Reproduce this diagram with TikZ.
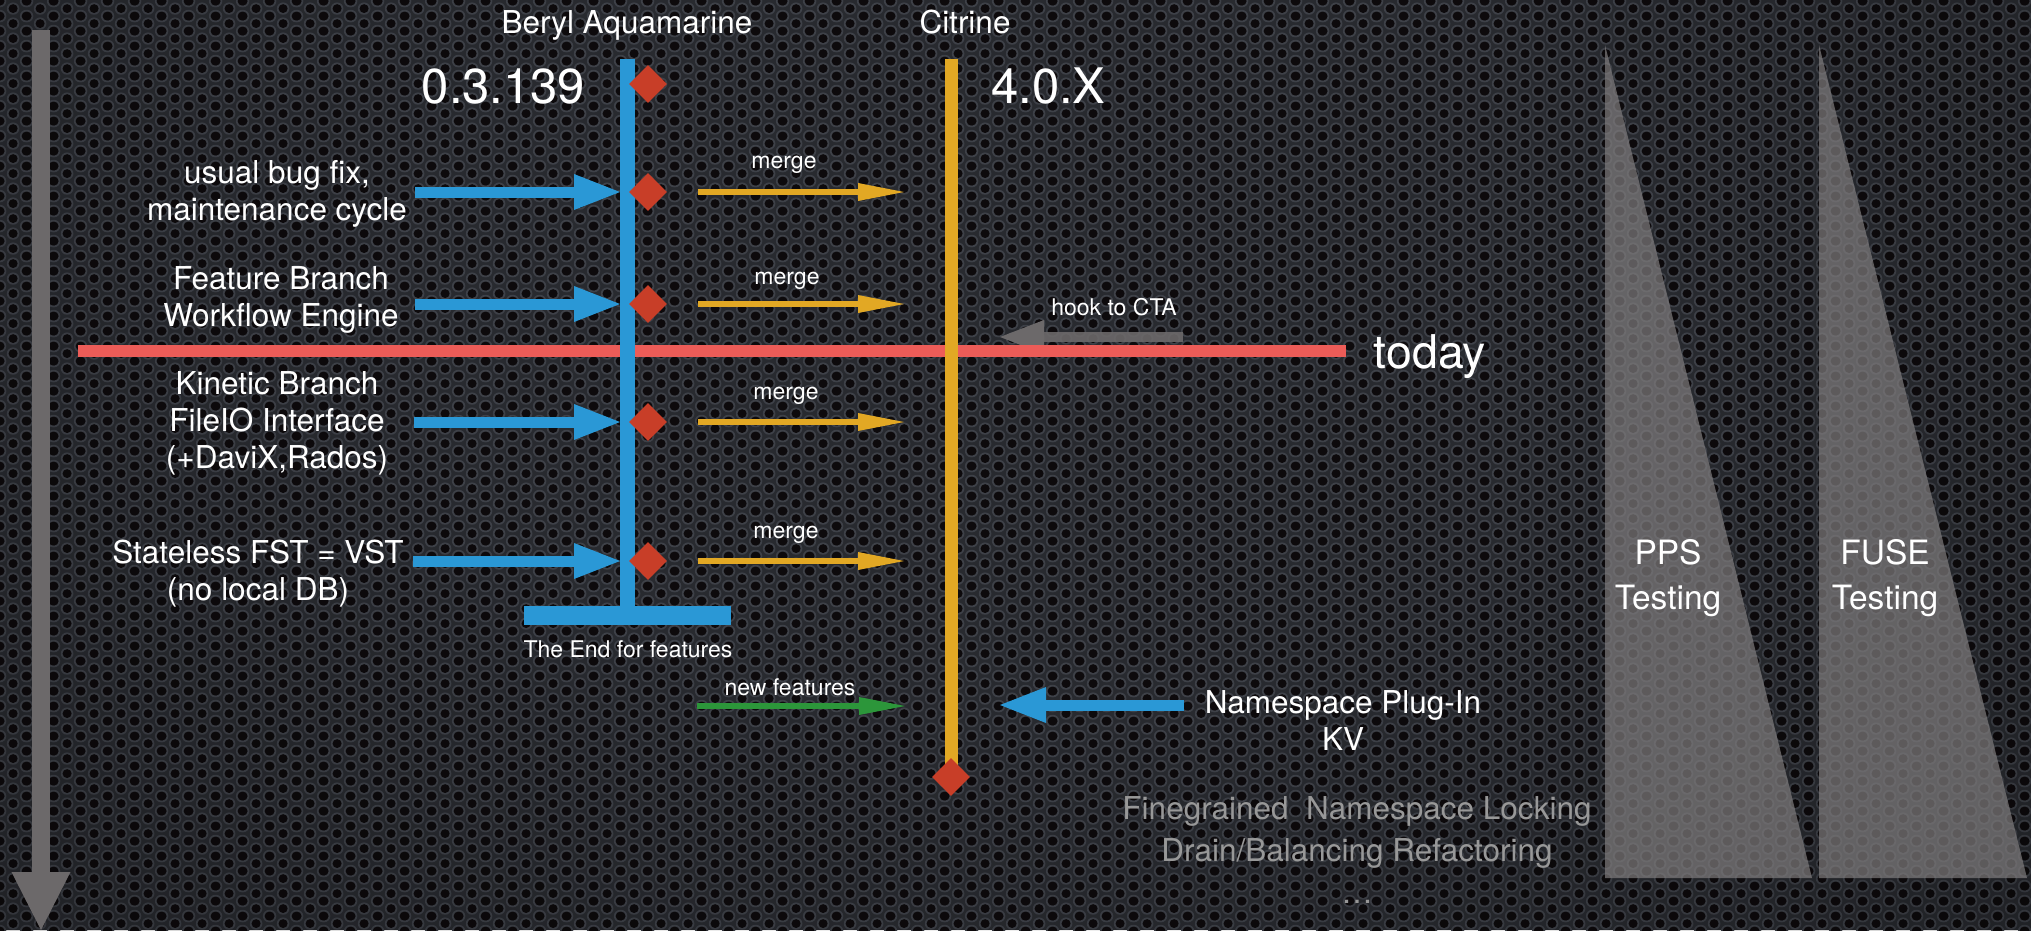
\documentclass[tikz,border=0pt]{standalone}
\usepackage{fontspec}
\setmainfont{TeX Gyre Heros}
\usetikzlibrary{patterns,fadings,arrows.meta,shapes.geometric}
\definecolor{bgbase}{RGB}{40,42,47}
\definecolor{ringc}{RGB}{62,65,72}
\definecolor{holec}{RGB}{13,10,12}
\definecolor{bblue}{RGB}{42,152,214}
\definecolor{dred}{RGB}{200,62,40}
\definecolor{orng}{RGB}{226,168,36}
\definecolor{grn}{RGB}{44,150,58}
\definecolor{todayred}{RGB}{236,92,88}
\definecolor{tgrey}{RGB}{108,105,106}
\definecolor{trifill}{RGB}{128,125,126}
\definecolor{softgrey}{RGB}{152,152,152}
\pgfdeclarepatternformonly{mholes}{\pgfqpoint{0pt}{0pt}}{\pgfqpoint{26.6pt}{15.4pt}}{\pgfqpoint{26.6pt}{15.4pt}}{%
  \pgfpathcircle{\pgfqpoint{0pt}{0pt}}{4.6pt}
  \pgfpathcircle{\pgfqpoint{26.6pt}{0pt}}{4.6pt}
  \pgfpathcircle{\pgfqpoint{0pt}{15.4pt}}{4.6pt}
  \pgfpathcircle{\pgfqpoint{26.6pt}{15.4pt}}{4.6pt}
  \pgfpathcircle{\pgfqpoint{13.3pt}{7.7pt}}{4.6pt}
  \pgfusepath{fill}}
\pgfdeclarepatternformonly{mrings}{\pgfqpoint{0pt}{0pt}}{\pgfqpoint{26.6pt}{15.4pt}}{\pgfqpoint{26.6pt}{15.4pt}}{%
  \pgfpathcircle{\pgfqpoint{0pt}{0pt}}{6.4pt}
  \pgfpathcircle{\pgfqpoint{26.6pt}{0pt}}{6.4pt}
  \pgfpathcircle{\pgfqpoint{0pt}{15.4pt}}{6.4pt}
  \pgfpathcircle{\pgfqpoint{26.6pt}{15.4pt}}{6.4pt}
  \pgfpathcircle{\pgfqpoint{13.3pt}{7.7pt}}{6.4pt}
  \pgfusepath{fill}}
\pgfdeclareradialshading{vigshade}{\pgfpointorigin}{color(0bp)=(black); color(12bp)=(black); color(50bp)=(black!50)}
\pgfdeclarefading{vig}{\pgfuseshading{vigshade}}
\tikzset{
  lbl/.style={text=white, inner sep=0pt, font=\fontsize{31.5}{37}\selectfont, align=center},
  smalllbl/.style={text=white, inner sep=0pt, font=\fontsize{23}{27}\selectfont},
  biglbl/.style={text=white, inner sep=0pt, font=\fontsize{49}{55}\selectfont},
  greylbl/.style={text=softgrey, inner sep=0pt, font=\fontsize{31.5}{42}\selectfont, align=center},
  testlbl/.style={text=white, inner sep=0pt, font=\fontsize{33.5}{45}\selectfont, align=center},
  dia/.style={diamond, fill=dred, minimum width=38pt, minimum height=38pt, inner sep=0pt},
  fatarrow/.style={draw=bblue, line width=11pt, -{Triangle[length=46pt,width=36pt,line width=0pt]}},
  mergearrow/.style={draw=orng, line width=6pt, -{Triangle[length=46pt,width=18pt,line width=0pt]}},
  newarrow/.style={draw=grn, line width=6pt, -{Triangle[length=46pt,width=18pt,line width=0pt]}},
  greyarrow/.style={draw=tgrey, -{Triangle[length=44pt,width=34pt,line width=0pt]}, line width=10pt},
}
\begin{document}
\begin{tikzpicture}[x=1pt,y=-1pt]
\useasboundingbox (0,0) rectangle (2031,930);
% background texture
\fill[bgbase] (0,0) rectangle (2031,930);
\fill[pattern=mrings, pattern color=ringc] (0,0) rectangle (2031,930);
\fill[pattern=mholes, pattern color=holec] (0,0) rectangle (2031,930);
\begin{scope}
  \clip (0,0) rectangle (2031,930);
  \fill[black, path fading=vig] (-300,-600) rectangle (2331,1200);
\end{scope}
% testing triangles
\fill[trifill, opacity=0.7] (1605,45) -- (1605,878) -- (1812,878) -- cycle;
\fill[trifill, opacity=0.7] (1819,45) -- (1819,878) -- (2027,878) -- cycle;
\node[testlbl, anchor=base] (pps) at (1668,609) {PPS\\Testing};
\node[testlbl, anchor=base] (fuse) at (1885,609) {FUSE\\Testing};
% time arrow
\coordinate (tl0) at (41,30);
\coordinate (tl1) at (41,930);
\draw[draw=tgrey, line width=18pt, -{Triangle[length=58pt,width=59pt,line width=0pt]}] (tl0) -- (tl1);
% hook to CTA
\coordinate (h0) at (1183,337);
\coordinate (h1) at (1000,337);
\draw[greyarrow, draw opacity=0.9] (h0) -- (h1);
\node[smalllbl, anchor=base] (hook) at (1114,315) {hook to CTA};
% today line
\coordinate (r0) at (78,351);
\coordinate (r1) at (1346,351);
\draw[todayred, line width=12pt] (r0) -- (r1);
\node[text=white, inner sep=0pt, font=\fontsize{46.5}{50}\selectfont, anchor=base] (today) at (1430,368) {today};
% branches
\coordinate (btop) at (627,59);
\coordinate (bbot) at (627,606);
\draw[bblue, line width=15pt] (btop) -- (bbot);
\fill[bblue] (524,606) rectangle (731,625);
\coordinate (otop) at (951,59);
\coordinate (obot) at (951,777);
\draw[orng, line width=13pt] (otop) -- (obot);
\node[biglbl, anchor=base] (v1) at (503.5,103) {0.3.139};
\node[biglbl, anchor=base west] (v2) at (991,103) {4.0.X};
\node[lbl, anchor=base] (beryl) at (627,33) {Beryl Aquamarine};
\node[lbl, anchor=base] (citr) at (965,33) {Citrine};
% diamonds
\node[dia] (d0) at (648,84) {};
\node[dia] (d1) at (648,192) {};
\node[dia] (d2) at (648,304) {};
\node[dia] (d3) at (648,422) {};
\node[dia] (d4) at (648,561) {};
\node[dia] (d5) at (951,777) {};
% incoming arrows to beryl
\coordinate (s1) at (415,192); \coordinate (e1) at (620,192);
\coordinate (s2) at (415,304); \coordinate (e2) at (620,304);
\coordinate (s3) at (414,422); \coordinate (e3) at (620,422);
\coordinate (s4) at (413,561); \coordinate (e4) at (620,561);
\draw[fatarrow] (s1) -- (e1);
\draw[fatarrow] (s2) -- (e2);
\draw[fatarrow] (s3) -- (e3);
\draw[fatarrow] (s4) -- (e4);
% merges
\coordinate (c1) at (951,192);
\coordinate (c2) at (951,304);
\coordinate (c3) at (951,422);
\coordinate (c4) at (951,561);
\coordinate (c5) at (951,706);
\coordinate (g0) at (697,706);
\draw[mergearrow, shorten <=31pt, shorten >=47pt] (d1.east) -- (c1);
\draw[mergearrow, shorten <=31pt, shorten >=47pt] (d2.east) -- (c2);
\draw[mergearrow, shorten <=31pt, shorten >=47pt] (d3.east) -- (c3);
\draw[mergearrow, shorten <=31pt, shorten >=47pt] (d4.east) -- (c4);
\draw[newarrow, shorten >=46pt] (g0) -- (c5);
\node[smalllbl, anchor=base] (m1) at (784,168) {merge};
\node[smalllbl, anchor=base] (m2) at (787,284) {merge};
\node[smalllbl, anchor=base] (m3) at (786,399) {merge};
\node[smalllbl, anchor=base] (m4) at (786,538) {merge};
\node[smalllbl, anchor=base] (nf) at (790,695) {new features};
\node[smalllbl, anchor=base] (end) at (628,657) {The End for features};
% namespace plug-in
\coordinate (n0) at (1184,705);
\coordinate (n1) at (1000,705);
\draw[fatarrow] (n0) -- (n1);
\node[lbl, anchor=base] (ns) at (1343,750) {Namespace Plug-In\\KV};
% left labels
\node[lbl, anchor=base] (t1) at (277,220) {usual bug fix,\\maintenance cycle};
\node[lbl, anchor=base] (t2) at (281,326) {Feature Branch\\Workflow Engine};
\node[lbl, anchor=base] (t3) at (277,468) {Kinetic Branch\\FileIO Interface\\(+DaviX,Rados)};
\node[lbl, anchor=base] (t4) at (258,600) {Stateless FST = VST\\(no local DB)};
% future
\node[greylbl, anchor=base] (fut) at (1357,903) {Finegrained\ \ Namespace Locking\\Drain/Balancing Refactoring\\\ldots};
\end{tikzpicture}
\end{document}
